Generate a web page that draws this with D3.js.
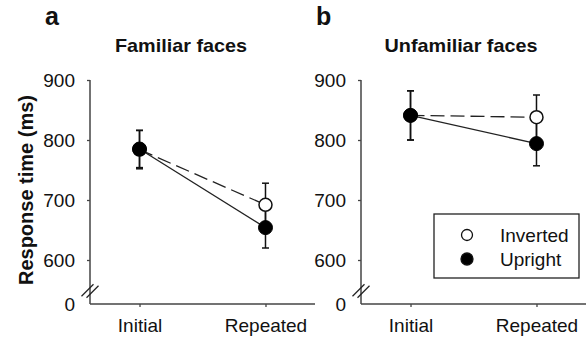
<!DOCTYPE html>
<html>
<head>
<meta charset="utf-8">
<script src="https://cdn.jsdelivr.net/npm/d3@7"></script>
<style>
  html, body { margin: 0; padding: 0; background: #fff; }
  svg { display: block; }
  text { font-family: "Liberation Sans", Arial, Helvetica, sans-serif; fill: #111; }
</style>
</head>
<body>
<svg id="chart" width="588" height="342"></svg>
<script>
// ---- data ----
const categories = ["Initial", "Repeated"];
const panels = ["a", "b"];
const panelTitles = ["Familiar faces", "Unfamiliar faces"];
const seriesNames = ["Inverted", "Upright"];
// mean response times (ms)
const familiarInverted = [784, 692];
const familiarUpright  = [785, 654];
const unfamiliarInverted = [841, 838];
const unfamiliarUpright  = [841, 794];
// error bar half-lengths (ms)
const familiarInvertedErr = [32, 36];
const familiarUprightErr  = [31, 34];
const unfamiliarInvertedErr = [41, 37];
const unfamiliarUprightErr  = [41, 37];
const yTicks = [0, 600, 700, 800, 900];

const panelData = [
  { inv: familiarInverted, up: familiarUpright, invErr: familiarInvertedErr, upErr: familiarUprightErr },
  { inv: unfamiliarInverted, up: unfamiliarUpright, invErr: unfamiliarInvertedErr, upErr: unfamiliarUprightErr }
];

const svg = d3.select("#chart");
const axisColor = "#444";
const panelLeft = [90, 361];
const panelWidth = 225;

// broken y scale: 0 at the bottom, 600-900 linear above
const y = d3.scaleLinear().domain([0, 550, 900]).range([304, 290, 80]);

panels.forEach((p, i) => {
  const g = svg.append("g").attr("transform", `translate(${panelLeft[i]},0)`);
  const x = d3.scalePoint().domain(categories).range([0, panelWidth]).padding(0.393);
  const d = panelData[i];

  // y axis
  const yAxis = d3.axisLeft(y).tickValues(yTicks).tickSize(3).tickPadding(12);
  const ya = g.append("g").call(yAxis);
  ya.select(".domain").remove();
  ya.selectAll(".tick line").attr("stroke", axisColor).attr("stroke-width", 1.3);
  ya.selectAll(".tick").filter(v => v === 0).select("line").remove();
  ya.selectAll("text").style("font-size", "19px").attr("fill", "#111")
    .attr("font-family", "Liberation Sans, Arial, sans-serif").attr("dy", "0.35em");
  g.append("line").attr("x1", 0).attr("x2", 0).attr("y1", y(900)).attr("y2", y(0))
    .attr("stroke", axisColor).attr("stroke-width", 1.5);
  // break marks
  const by = 291;
  [-2.5, 2.5].forEach(o => {
    g.append("line").attr("x1", -6 + o).attr("y1", by + 6 + o * 0.3)
      .attr("x2", 6 + o).attr("y2", by - 6 + o * 0.3)
      .attr("stroke", "#222").attr("stroke-width", 1.3);
  });

  // x axis
  const xAxis = d3.axisBottom(x).tickSize(3).tickPadding(12);
  const xa = g.append("g").attr("transform", `translate(0,${y(0)})`).call(xAxis);
  xa.select(".domain").remove();
  xa.selectAll(".tick line").attr("stroke", axisColor).attr("stroke-width", 1.3);
  xa.selectAll("text").style("font-size", "19px").attr("fill", "#111")
    .attr("font-family", "Liberation Sans, Arial, sans-serif").attr("dy", "0.71em");
  g.append("line").attr("x1", 0).attr("x2", panelWidth).attr("y1", y(0)).attr("y2", y(0))
    .attr("stroke", axisColor).attr("stroke-width", 1.5);

  // connecting lines
  const line = d3.line().x((v, j) => x(categories[j])).y(v => y(v));
  g.append("path").datum(d.inv).attr("d", line).attr("fill", "none")
    .attr("stroke", "#222").attr("stroke-width", 1.3).attr("stroke-dasharray", "14,6");
  g.append("path").datum(d.up).attr("d", line).attr("fill", "none")
    .attr("stroke", "#222").attr("stroke-width", 1.3);

  // error bars
  const drawErr = (vals, errs) => {
    vals.forEach((v, j) => {
      const cx = x(categories[j]);
      g.append("line").attr("x1", cx).attr("x2", cx).attr("y1", y(v - errs[j])).attr("y2", y(v + errs[j]))
        .attr("stroke", "#111").attr("stroke-width", 1.5);
      [v - errs[j], v + errs[j]].forEach(e => {
        g.append("line").attr("x1", cx - 3.5).attr("x2", cx + 3.5).attr("y1", y(e)).attr("y2", y(e))
          .attr("stroke", "#111").attr("stroke-width", 1.5);
      });
    });
  };
  drawErr(d.inv, d.invErr);
  drawErr(d.up, d.upErr);

  // markers
  d.inv.forEach((v, j) => {
    g.append("circle").attr("cx", x(categories[j])).attr("cy", y(v)).attr("r", 6.5)
      .attr("fill", "#fff").attr("stroke", "#111").attr("stroke-width", 1.5);
  });
  d.up.forEach((v, j) => {
    g.append("circle").attr("cx", x(categories[j])).attr("cy", y(v)).attr("r", 7)
      .attr("fill", "#000").attr("stroke", "#000").attr("stroke-width", 1);
  });

  // panel letter and title
  svg.append("text").attr("x", panelLeft[i] - 45).attr("y", 25)
    .style("font-size", "25px").style("font-weight", "bold").text(p);
  svg.append("text").attr("transform", `translate(${[181, 461][i]},52) scale(1.1,1)`)
    .attr("text-anchor", "middle")
    .style("font-size", "18px").style("font-weight", "bold").text(panelTitles[i]);
});

// y axis label
svg.append("text").attr("transform", "translate(33,190) rotate(-90)").attr("text-anchor", "middle")
  .style("font-size", "20px").style("font-weight", "bold").text("Response time (ms)");

// legend
const lg = svg.append("g").attr("transform", "translate(434,214)");
lg.append("rect").attr("x", 0).attr("y", 0).attr("width", 145).attr("height", 64)
  .attr("fill", "#fff").attr("stroke", "#222").attr("stroke-width", 1.3);
seriesNames.forEach((s, k) => {
  const cy = 21 + k * 24;
  lg.append("circle").attr("cx", 33).attr("cy", cy).attr("r", k === 0 ? 5.5 : 6)
    .attr("fill", k === 0 ? "#fff" : "#000").attr("stroke", "#111").attr("stroke-width", 1.3);
  lg.append("text").attr("x", 66).attr("y", cy).attr("dy", "0.35em")
    .style("font-size", "19px").text(s);
});
</script>
</body>
</html>
